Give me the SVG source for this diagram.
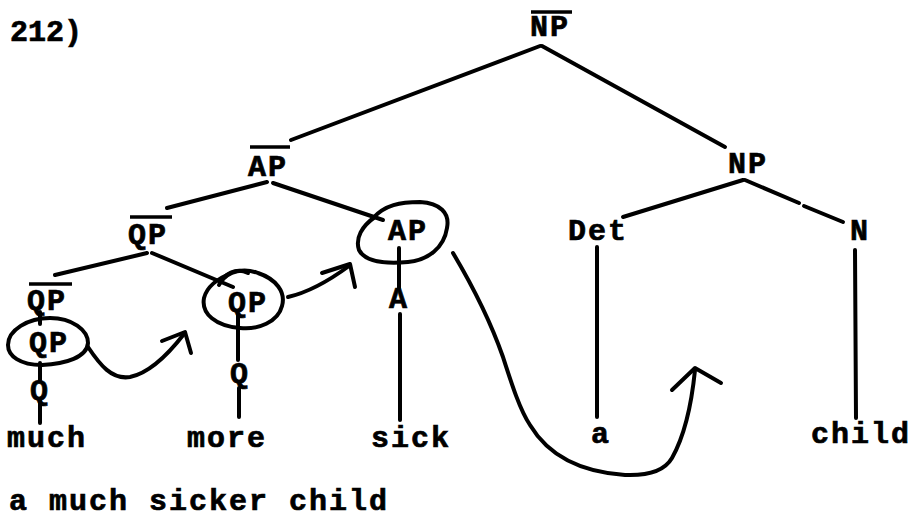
<svg xmlns="http://www.w3.org/2000/svg" width="911" height="518" viewBox="0 0 911 518">
<style>
.t{font-family:"Liberation Mono",monospace;font-weight:bold;font-size:30px;letter-spacing:2px;fill:#000;stroke:#000;stroke-width:0.7}
.e{fill:none;stroke:#000;stroke-width:4;stroke-linecap:round;stroke-linejoin:round}
.ln{stroke:#000;stroke-width:4;stroke-linecap:round;fill:none}
.bar{stroke:#000;stroke-width:3.5}
</style>
<rect width="911" height="518" fill="#fff"/>
<text class="t" x="10" y="41" style="letter-spacing:0">212)</text>

<g id="NPbar"><line class="bar" x1="531" y1="12" x2="572" y2="12"/><text class="t" x="530" y="36">NP</text></g>
<g id="APbar"><line class="bar" x1="250" y1="147" x2="290" y2="147"/><text class="t" x="248" y="176">AP</text></g>
<g id="NP"><text class="t" x="728" y="173">NP</text></g>
<g id="QPbar1"><line class="bar" x1="130" y1="217" x2="172" y2="217"/><text class="t" x="128" y="244">QP</text></g>
<g id="AP"><path class="e" d="M373,218 C385,205 400,202 420,202 C440,203 450,213 447,228 C444,248 428,260 408,262 C385,264 365,262 359,250 C355,238 362,226 375,217"/><text class="t" x="388" y="240">AP</text></g>
<g id="Det"><text class="t" x="568" y="240">Det</text></g>
<g id="N"><text class="t" x="850" y="240">N</text></g>
<g id="QPbar2"><line class="bar" x1="29" y1="284" x2="72" y2="284"/><text class="t" x="27" y="310">QP</text></g>
<g id="QPmore"><path class="e" d="M220,283 C228,270 245,268 258,273 C276,279 286,292 282,306 C278,322 258,330 240,328 C216,326 201,314 204,298 C207,286 218,278 234,272"/><path class="e" d="M219,285 C224,274 236,267 248,273"/><text class="t" x="228" y="312">QP</text></g>
<g id="A"><text class="t" x="389" y="308">A</text></g>
<g id="QPlow"><path class="e" d="M50,318 C72,318 88,330 88,343 C87,357 66,364 42,365 C20,365 8,356 8,345 C8,330 28,318 50,318 Z"/><text class="t" x="29" y="352">QP</text></g>
<g id="Qlow"><text class="t" x="30" y="400">Q</text></g>
<g id="Qmore"><text class="t" x="230" y="383">Q</text></g>
<g id="much"><text class="t" x="7" y="447">much</text></g>
<g id="more"><text class="t" x="187" y="447">more</text></g>
<g id="sick"><text class="t" x="371" y="447">sick</text></g>
<g id="a"><text class="t" x="591" y="443">a</text></g>
<g id="child"><text class="t" x="811" y="443">child</text></g>

<g id="connectors">
<line class="ln" x1="540" y1="46" x2="291" y2="140"/>
<line class="ln" x1="542" y1="46" x2="725" y2="147"/>
<line class="ln" x1="267" y1="182" x2="167" y2="208"/>
<line class="ln" x1="273" y1="183" x2="383" y2="220"/>
<line class="ln" x1="147" y1="253" x2="55" y2="275"/>
<line class="ln" x1="152" y1="253" x2="233" y2="287"/>
<line class="ln" x1="743" y1="180" x2="623" y2="217"/>
<line class="ln" x1="745" y1="180" x2="799" y2="203"/>
<line class="ln" x1="804" y1="206" x2="843" y2="222"/>
<line class="ln" x1="40" y1="312" x2="40" y2="324"/>
<line class="ln" x1="40" y1="363" x2="40" y2="380"/>
<line class="ln" x1="40" y1="401" x2="40" y2="423"/>
<line class="ln" x1="238" y1="314" x2="238" y2="360"/>
<line class="ln" x1="239" y1="388" x2="239" y2="417"/>
<line class="ln" x1="399" y1="248" x2="399" y2="288"/>
<line class="ln" x1="400" y1="314" x2="400" y2="420"/>
<line class="ln" x1="597" y1="247" x2="597" y2="417"/>
<line class="ln" x1="855" y1="250" x2="856" y2="418"/>
<path class="e" d="M88,347 C100,365 112,380 130,377 C150,373 170,352 184,334"/>
<polyline class="e" points="162,341 185,332 191,353"/>
<path class="e" d="M288,297 C310,292 330,280 349,266"/>
<polyline class="e" points="322,273 350,264 355,287"/>
<path class="e" d="M453,253 C472,285 490,320 503,357 C512,385 520,410 530,425 C548,455 580,472 625,475 C650,476 665,470 672,458 C685,435 692,400 695,370"/>
<polyline class="e" points="672,390 695,368 721,383"/>
</g>

<text class="t" x="9" y="510">a much sicker child</text>
</svg>
